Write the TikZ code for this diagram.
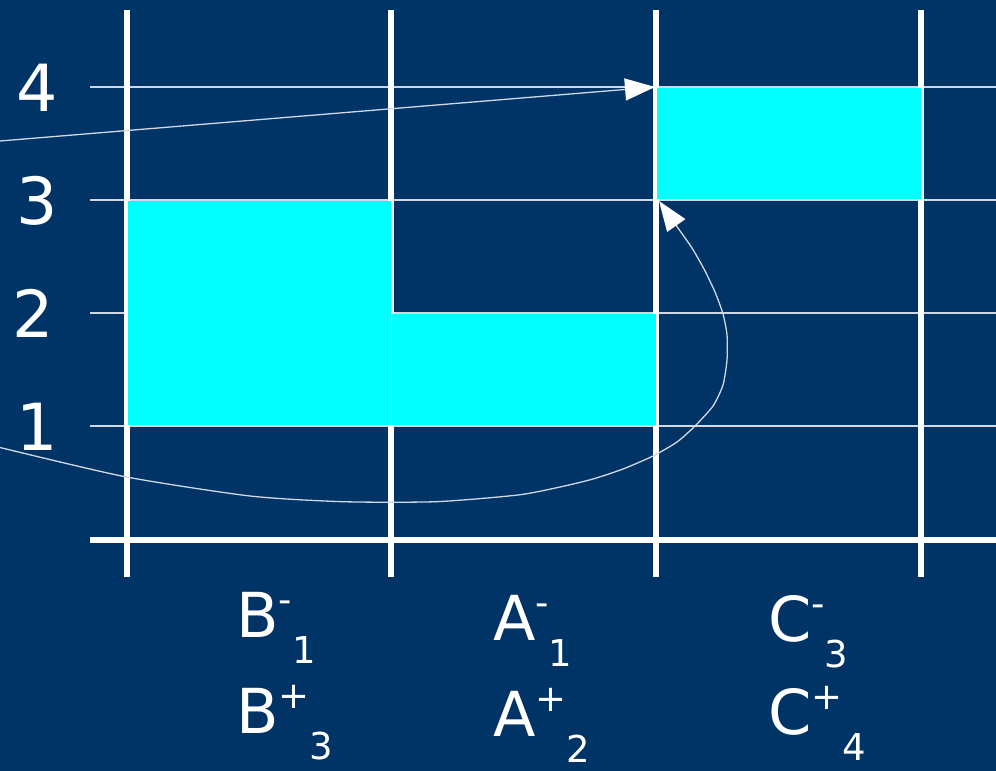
\documentclass[tikz,border=0pt]{standalone}
\usepackage{fontspec}
\setmainfont{DejaVu Sans}
\usetikzlibrary{arrows.meta}
\definecolor{bg}{RGB}{0,51,102}
\definecolor{gridcol}{RGB}{210,216,226}
\definecolor{blockcol}{RGB}{0,255,255}
\newcommand\collabel[3]{{\fontsize{62}{62}\selectfont #1}{\fontsize{37}{37}\selectfont\raisebox{25pt}{#2}\raisebox{-26pt}{#3}}}
\begin{document}
\begin{tikzpicture}[x=1pt,y=-1pt,
  gridline/.style={draw=gridcol, line width=1.1pt},
  bar/.style={draw=white, line width=6pt},
  block/.style={fill=blockcol},
  conn/.style={draw=gridcol, line width=1.3pt, -{Triangle[length=30pt,width=22pt,color=white]}},
  ylab/.style={text=white, anchor=base, inner sep=0pt, font=\fontsize{65}{65}\selectfont},
  collab/.style={text=white, anchor=base west, inner sep=0pt}]
\fill[bg] (0,0) rectangle (996,771);
\useasboundingbox (0,0) rectangle (996,771);
% grid lines
\foreach \y in {87,200,313,426} \draw[gridline] (90,\y) -- (996,\y);
% vertical bars and axis
\foreach \x in {127,391,656,921} \draw[bar] (\x,10) -- (\x,577);
\draw[bar] (90,540) -- (996,540);
% blocks
\fill[block] (128,200.6) rectangle (391,425.4);
\fill[block] (392,313.6) rectangle (656,425.4);
\fill[block] (657,87.6) rectangle (921,199.4);
% y labels
\node[ylab] (y4) at (37,111) {4};
\node[ylab] (y3) at (37,224) {3};
\node[ylab] (y2) at (33,337) {2};
\node[ylab] (y1) at (37,450) {1};
% column labels
\node[collab] (bm) at (236,637) {\collabel{B}{-}{1}};
\node[collab] (bp) at (236,733) {\collabel{B}{+}{3}};
\node[collab] (am) at (493,640) {\collabel{A}{-}{1}};
\node[collab] (ap) at (493,736) {\collabel{A}{+}{2}};
\node[collab] (cm) at (768,641) {\collabel{C}{-}{3}};
\node[collab] (cp) at (768,734) {\collabel{C}{+}{4}};
% connectors
\coordinate (s1) at (0,141);
\coordinate (t1) at (655,87);
\coordinate (s2) at (0,447.5);
\coordinate (t2) at (659,201);
\draw[conn] (s1) -- (t1);
\draw[conn] plot[smooth, tension=0.4] coordinates {(s2) (125,476.7) (250,496) (343,501.7) (436,501.7) (518,495) (560,487) (593,479) (623,469) (653,456) (677,442) (695,426) (713,406) (723,385) (727,360) (727,335) (723,314) (715,292) (704,269) (692,248) (678,228) (t2)};
\end{tikzpicture}
\end{document}
